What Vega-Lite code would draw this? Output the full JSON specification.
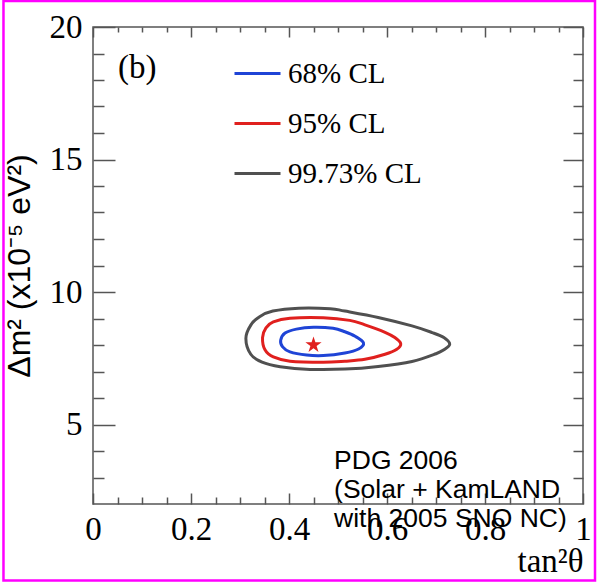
{
  "$schema": "https://vega.github.io/schema/vega-lite/v6.json",
  "width": 490,
  "height": 477,
  "autosize": {"type": "none"},
  "padding": {"left": 93, "top": 27, "right": 14, "bottom": 81},
  "background": "white",
  "config": {
    "view": {"stroke": "#555555", "strokeWidth": 1.5},
    "font": "Liberation Serif",
    "axis": {"tickColor": "#555555", "tickWidth": 1.5, "domain": false, "grid": false}
  },
  "datasets": {
    "contours": [
      {"level": "68% CL", "i": 0, "tan2theta": 0.383, "dm2": 8.18},
      {"level": "68% CL", "i": 1, "tan2theta": 0.392, "dm2": 8.45},
      {"level": "68% CL", "i": 2, "tan2theta": 0.415, "dm2": 8.6},
      {"level": "68% CL", "i": 3, "tan2theta": 0.45, "dm2": 8.67},
      {"level": "68% CL", "i": 4, "tan2theta": 0.49, "dm2": 8.63},
      {"level": "68% CL", "i": 5, "tan2theta": 0.514, "dm2": 8.5},
      {"level": "68% CL", "i": 6, "tan2theta": 0.535, "dm2": 8.33},
      {"level": "68% CL", "i": 7, "tan2theta": 0.552, "dm2": 8.08},
      {"level": "68% CL", "i": 8, "tan2theta": 0.542, "dm2": 7.85},
      {"level": "68% CL", "i": 9, "tan2theta": 0.514, "dm2": 7.7},
      {"level": "68% CL", "i": 10, "tan2theta": 0.47, "dm2": 7.6},
      {"level": "68% CL", "i": 11, "tan2theta": 0.436, "dm2": 7.62},
      {"level": "68% CL", "i": 12, "tan2theta": 0.402, "dm2": 7.74},
      {"level": "68% CL", "i": 13, "tan2theta": 0.387, "dm2": 7.93},
      {"level": "95% CL", "i": 0, "tan2theta": 0.346, "dm2": 8.28},
      {"level": "95% CL", "i": 1, "tan2theta": 0.353, "dm2": 8.65},
      {"level": "95% CL", "i": 2, "tan2theta": 0.368, "dm2": 8.87},
      {"level": "95% CL", "i": 3, "tan2theta": 0.402, "dm2": 9.01},
      {"level": "95% CL", "i": 4, "tan2theta": 0.47, "dm2": 9.03},
      {"level": "95% CL", "i": 5, "tan2theta": 0.524, "dm2": 8.93},
      {"level": "95% CL", "i": 6, "tan2theta": 0.555, "dm2": 8.76},
      {"level": "95% CL", "i": 7, "tan2theta": 0.596, "dm2": 8.48},
      {"level": "95% CL", "i": 8, "tan2theta": 0.616, "dm2": 8.28},
      {"level": "95% CL", "i": 9, "tan2theta": 0.628, "dm2": 8.05},
      {"level": "95% CL", "i": 10, "tan2theta": 0.62, "dm2": 7.84},
      {"level": "95% CL", "i": 11, "tan2theta": 0.596, "dm2": 7.65},
      {"level": "95% CL", "i": 12, "tan2theta": 0.555, "dm2": 7.46},
      {"level": "95% CL", "i": 13, "tan2theta": 0.514, "dm2": 7.39},
      {"level": "95% CL", "i": 14, "tan2theta": 0.47, "dm2": 7.35},
      {"level": "95% CL", "i": 15, "tan2theta": 0.402, "dm2": 7.39},
      {"level": "95% CL", "i": 16, "tan2theta": 0.368, "dm2": 7.55},
      {"level": "95% CL", "i": 17, "tan2theta": 0.351, "dm2": 7.82},
      {"level": "99.73% CL", "i": 0, "tan2theta": 0.312, "dm2": 8.25},
      {"level": "99.73% CL", "i": 1, "tan2theta": 0.322, "dm2": 8.75},
      {"level": "99.73% CL", "i": 2, "tan2theta": 0.34, "dm2": 9.07},
      {"level": "99.73% CL", "i": 3, "tan2theta": 0.367, "dm2": 9.28},
      {"level": "99.73% CL", "i": 4, "tan2theta": 0.42, "dm2": 9.39},
      {"level": "99.73% CL", "i": 5, "tan2theta": 0.484, "dm2": 9.37},
      {"level": "99.73% CL", "i": 6, "tan2theta": 0.514, "dm2": 9.28},
      {"level": "99.73% CL", "i": 7, "tan2theta": 0.582, "dm2": 9.04},
      {"level": "99.73% CL", "i": 8, "tan2theta": 0.651, "dm2": 8.72},
      {"level": "99.73% CL", "i": 9, "tan2theta": 0.692, "dm2": 8.47},
      {"level": "99.73% CL", "i": 10, "tan2theta": 0.716, "dm2": 8.28},
      {"level": "99.73% CL", "i": 11, "tan2theta": 0.728, "dm2": 8.03},
      {"level": "99.73% CL", "i": 12, "tan2theta": 0.716, "dm2": 7.82},
      {"level": "99.73% CL", "i": 13, "tan2theta": 0.7, "dm2": 7.67},
      {"level": "99.73% CL", "i": 14, "tan2theta": 0.651, "dm2": 7.38},
      {"level": "99.73% CL", "i": 15, "tan2theta": 0.582, "dm2": 7.19},
      {"level": "99.73% CL", "i": 16, "tan2theta": 0.514, "dm2": 7.09},
      {"level": "99.73% CL", "i": 17, "tan2theta": 0.443, "dm2": 7.08},
      {"level": "99.73% CL", "i": 18, "tan2theta": 0.382, "dm2": 7.18},
      {"level": "99.73% CL", "i": 19, "tan2theta": 0.345, "dm2": 7.35},
      {"level": "99.73% CL", "i": 20, "tan2theta": 0.322, "dm2": 7.65}
    ],
    "bestfit": [{"tan2theta": 0.45, "dm2": 8.0}],
    "panel": [{"tag": "(b)"}],
    "credit": [{"line1": "PDG 2006", "line2": "(Solar + KamLAND", "line3": "with 2005 SNO NC)"}],
    "frame": [{"part": "border"}]
  },
  "layer": [
    {
      "data": {"name": "contours"},
      "mark": {"type": "line", "interpolate": "cardinal-closed", "strokeWidth": 3},
      "encoding": {
        "x": {
          "field": "tan2theta", "type": "quantitative",
          "scale": {"domain": [0, 1], "nice": false, "zero": false},
          "axis": {
            "orient": "bottom", "offset": -11, "tickSize": 11,
            "values": [0, 0.2, 0.4, 0.6, 0.8, 1],
            "format": "~g",
            "labelFont": "Liberation Serif", "labelFontSize": 33, "labelColor": "#000000",
            "labelPadding": 9, "labelOverlap": false, "labelFlush": false, "labelBound": false,
            "title": "tan²θ", "titleFont": "Liberation Serif", "titleFontSize": 33,
            "titleFontWeight": "normal", "titleColor": "#000000",
            "titleAnchor": "end", "titleAlign": "right", "titlePadding": -1
          }
        },
        "y": {
          "field": "dm2", "type": "quantitative",
          "scale": {"domain": [2, 20], "nice": false, "zero": false},
          "axis": {
            "orient": "left", "offset": -22, "tickSize": 22,
            "values": [5, 10, 15, 20],
            "labelFont": "Liberation Serif", "labelFontSize": 33, "labelColor": "#000000",
            "labelPadding": 11, "labelOverlap": false, "labelFlush": false, "labelBound": false,
            "title": "Δm² (x10⁻⁵ eV²)", "titleFont": "Liberation Sans", "titleFontSize": 32,
            "titleFontWeight": "normal", "titleColor": "#000000", "titlePadding": 13
          }
        },
        "color": {
          "field": "level", "type": "nominal",
          "scale": {"domain": ["68% CL", "95% CL", "99.73% CL"], "range": ["#1f44d6", "#e0201e", "#505050"]},
          "legend": {
            "orient": "none", "legendX": 140, "legendY": 22, "title": null,
            "symbolType": "stroke", "symbolSize": 2116, "symbolStrokeWidth": 3,
            "labelFont": "Liberation Serif", "labelFontSize": 29, "labelColor": "#000000",
            "labelOffset": 6, "rowPadding": 10, "padding": 0, "labelLimit": 300
          }
        },
        "detail": {"field": "level", "type": "nominal"},
        "order": {"field": "i", "type": "quantitative"}
      }
    },
    {
      "data": {"name": "bestfit"},
      "mark": {
        "type": "point",
        "shape": "M0,-1L0.225,-0.309L0.951,-0.309L0.363,0.118L0.588,0.809L0,0.382L-0.588,0.809L-0.363,0.118L-0.951,-0.309L-0.225,-0.309Z",
        "filled": true, "size": 290, "color": "#e0201e", "opacity": 1
      },
      "encoding": {
        "x": {
          "field": "tan2theta", "type": "quantitative",
          "scale": {"domain": [0, 1], "nice": false, "zero": false},
          "axis": {"orient": "top", "offset": -10, "tickSize": 10, "values": [0, 0.2, 0.4, 0.6, 0.8, 1], "labels": false, "title": null}
        },
        "y": {
          "field": "dm2", "type": "quantitative",
          "scale": {"domain": [2, 20], "nice": false, "zero": false},
          "axis": {"orient": "right", "offset": -20, "tickSize": 20, "values": [5, 10, 15, 20], "labels": false, "title": null}
        }
      }
    },
    {
      "data": {"name": "panel"},
      "mark": {"type": "text", "font": "Liberation Serif", "fontSize": 33, "align": "left", "baseline": "middle", "color": "#000000"},
      "encoding": {
        "text": {"field": "tag", "type": "nominal"},
        "x": {
          "datum": 0.051, "type": "quantitative", "scale": {"domain": [0, 1], "nice": false, "zero": false},
          "axis": {"orient": "bottom", "offset": -7, "tickSize": 7, "values": [0.05, 0.1, 0.15, 0.25, 0.3, 0.35, 0.45, 0.5, 0.55, 0.65, 0.7, 0.75, 0.85, 0.9, 0.95], "labels": false, "title": null}
        },
        "y": {
          "datum": 18.47, "type": "quantitative", "scale": {"domain": [2, 20], "nice": false, "zero": false},
          "axis": {"orient": "left", "offset": -11, "tickSize": 11, "values": [3, 4, 6, 7, 8, 9, 11, 12, 13, 14, 16, 17, 18, 19], "labels": false, "title": null}
        }
      }
    },
    {
      "data": {"name": "credit"},
      "mark": {"type": "text", "font": "Liberation Sans", "fontSize": 26.5, "lineHeight": 29, "align": "left", "baseline": "alphabetic", "color": "#000000"},
      "encoding": {
        "text": {"value": {"expr": "[datum.line1, datum.line2, datum.line3]"}},
        "x": {
          "datum": 0.492, "type": "quantitative", "scale": {"domain": [0, 1], "nice": false, "zero": false},
          "axis": {"orient": "top", "offset": -5, "tickSize": 5, "values": [0.05, 0.1, 0.15, 0.25, 0.3, 0.35, 0.45, 0.5, 0.55, 0.65, 0.7, 0.75, 0.85, 0.9, 0.95], "labels": false, "title": null}
        },
        "y": {
          "datum": 3.32, "type": "quantitative", "scale": {"domain": [2, 20], "nice": false, "zero": false},
          "axis": {"orient": "right", "offset": -10, "tickSize": 10, "values": [3, 4, 6, 7, 8, 9, 11, 12, 13, 14, 16, 17, 18, 19], "labels": false, "title": null}
        }
      }
    },
    {
      "data": {"name": "frame"},
      "mark": {"type": "rect", "fill": null, "stroke": "#ff00ff", "strokeWidth": 2.5},
      "encoding": {
        "x": {"datum": -0.1827, "type": "quantitative", "scale": {"domain": [0, 1], "nice": false, "zero": false}, "axis": null},
        "x2": {"datum": 1.0245},
        "y": {"datum": 20.98, "type": "quantitative", "scale": {"domain": [2, 20], "nice": false, "zero": false}, "axis": null},
        "y2": {"datum": -0.89}
      }
    }
  ],
  "resolve": {"axis": {"x": "independent", "y": "independent"}}
}
